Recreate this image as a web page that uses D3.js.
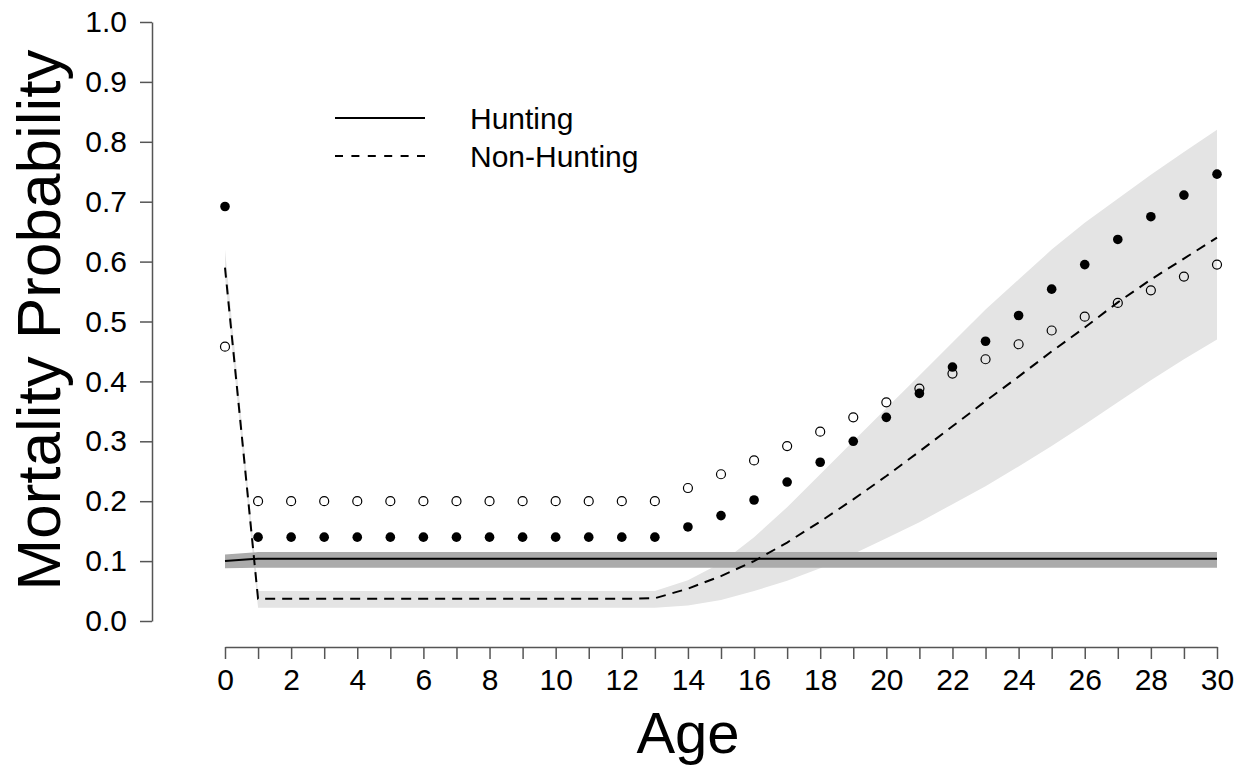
<!DOCTYPE html>
<html lang="en">
<head>
    <meta charset="UTF-8">
    <title>Mortality Probability by Age</title>
    <script src="https://cdn.jsdelivr.net/npm/d3@7"></script>
    <style>
        body { margin: 0; background: #fff; }
        text { font-family: "Liberation Sans", Arial, sans-serif; fill: #000; }
    </style>
</head>
<body>
    <svg width="1240" height="768"></svg>
    <script>
        const width = 1240;
        const height = 768;

        const ages = [0, 1, 2, 3, 4, 5, 6, 7, 8, 9, 10, 11, 12, 13, 14, 15,
            16, 17, 18, 19, 20, 21, 22, 23, 24, 25, 26, 27, 28, 29, 30];
        const xTickLabels = [0, 2, 4, 6, 8, 10, 12, 14, 16, 18, 20, 22, 24, 26, 28, 30];
        const yTicks = [0, 0.1, 0.2, 0.3, 0.4, 0.5, 0.6, 0.7, 0.8, 0.9, 1.0];

        // hunting: fitted line and its interval
        const huntFit = [0.100, 0.104, 0.104, 0.104, 0.104, 0.104, 0.104, 0.104, 0.104, 0.104, 0.104,
            0.104, 0.104, 0.104, 0.104, 0.104, 0.104, 0.104, 0.104, 0.104, 0.104,
            0.104, 0.104, 0.104, 0.104, 0.104, 0.104, 0.104, 0.104, 0.104, 0.104];
        const huntLow = [0.088, 0.089, 0.089, 0.089, 0.089, 0.089, 0.089, 0.089, 0.089, 0.089, 0.089,
            0.089, 0.089, 0.089, 0.089, 0.089, 0.089, 0.089, 0.089, 0.089, 0.089,
            0.089, 0.089, 0.089, 0.089, 0.089, 0.089, 0.089, 0.089, 0.089, 0.089];
        const huntHigh = [0.111, 0.115, 0.115, 0.115, 0.115, 0.115, 0.115, 0.115, 0.115, 0.115, 0.115,
            0.115, 0.115, 0.115, 0.115, 0.115, 0.115, 0.115, 0.115, 0.115, 0.115,
            0.115, 0.115, 0.115, 0.115, 0.115, 0.115, 0.115, 0.115, 0.115, 0.115];

        // non-hunting: fitted line and its interval
        const nonHuntFit = [0.59, 0.037, 0.037, 0.037, 0.037, 0.037, 0.037, 0.037, 0.037, 0.037, 0.037,
            0.037, 0.037, 0.038, 0.054, 0.075, 0.100, 0.131, 0.166, 0.203, 0.242,
            0.283, 0.325, 0.367, 0.408, 0.450, 0.490, 0.532, 0.570, 0.605, 0.640];
        const nonHuntLow = [0.575, 0.022, 0.022, 0.022, 0.022, 0.022, 0.022, 0.022, 0.022, 0.022, 0.022,
            0.022, 0.022, 0.022, 0.026, 0.035, 0.050, 0.067, 0.088, 0.112, 0.138,
            0.165, 0.195, 0.225, 0.258, 0.292, 0.328, 0.365, 0.402, 0.437, 0.470];
        const nonHuntHigh = [0.62, 0.050, 0.050, 0.050, 0.050, 0.050, 0.050, 0.050, 0.050, 0.050, 0.050,
            0.050, 0.050, 0.050, 0.068, 0.097, 0.140, 0.190, 0.245, 0.300, 0.355,
            0.410, 0.465, 0.520, 0.570, 0.620, 0.665, 0.705, 0.745, 0.783, 0.820];

        // observed points
        const filledPts = [0.692, 0.14, 0.14, 0.14, 0.14, 0.14, 0.14, 0.14, 0.14, 0.14, 0.14,
            0.14, 0.14, 0.14, 0.157, 0.176, 0.202, 0.232, 0.265, 0.300, 0.340,
            0.380, 0.424, 0.467, 0.510, 0.554, 0.595, 0.637, 0.675, 0.711, 0.746];
        const openPts = [0.458, 0.20, 0.20, 0.20, 0.20, 0.20, 0.20, 0.20, 0.20, 0.20, 0.20,
            0.20, 0.20, 0.20, 0.222, 0.245, 0.268, 0.292, 0.316, 0.340, 0.365,
            0.388, 0.413, 0.437, 0.462, 0.485, 0.508, 0.531, 0.552, 0.575, 0.595];

        const legendItems = [
            {name: 'Hunting', dash: null},
            {name: 'Non-Hunting', dash: '8,8.4'}
        ];

        const x = d3.scaleLinear().domain([0, 30]).range([225, 1217]);
        const y = d3.scaleLinear().domain([0, 1]).range([621, 22]);

        const svg = d3.select('svg');

        const band = (lo, hi) => d3.area()
            .x((d, i) => x(ages[i]))
            .y0((d, i) => y(lo[i]))
            .y1((d, i) => y(hi[i]));
        const line = vals => d3.line()
            .x((d, i) => x(ages[i]))
            .y((d, i) => y(vals[i]));

        svg.append('path').datum(ages)
            .attr('fill', '#e4e4e4')
            .attr('d', band(nonHuntLow, nonHuntHigh));
        svg.append('path').datum(ages)
            .attr('fill', '#ababab')
            .attr('d', band(huntLow, huntHigh));

        svg.append('path').datum(ages)
            .attr('fill', 'none').attr('stroke', '#000').attr('stroke-width', 2)
            .attr('d', line(huntFit));
        svg.append('path').datum(ages)
            .attr('fill', 'none').attr('stroke', '#000').attr('stroke-width', 2)
            .attr('stroke-dasharray', '10,7')
            .attr('d', line(nonHuntFit));

        svg.append('g')
            .selectAll('circle').data(ages).enter().append('circle')
            .attr('cx', d => x(d))
            .attr('cy', (d, i) => y(openPts[i]))
            .attr('r', 4.5)
            .attr('fill', 'none')
            .attr('stroke', '#000')
            .attr('stroke-width', 1.2);
        svg.append('g')
            .selectAll('circle').data(ages).enter().append('circle')
            .attr('cx', d => x(d))
            .attr('cy', (d, i) => y(filledPts[i]))
            .attr('r', 4.8)
            .attr('fill', '#000');

        // axes
        const yAxis = g => g
            .attr('transform', 'translate(152, 0)')
            .call(d3.axisLeft(y).tickValues(yTicks).tickSize(12).tickSizeOuter(0)
                .tickPadding(13).tickFormat(d3.format('.1f')))
            .call(g => g.selectAll('path, line').attr('stroke', '#555').attr('stroke-width', 1.5))
            .call(g => g.selectAll('text').attr('font-size', 30)
                .attr('font-family', '"Liberation Sans", Arial, sans-serif'));

        const xAxis = g => g
            .attr('transform', 'translate(0, 647)')
            .call(d3.axisBottom(x).tickValues(ages).tickSize(12).tickSizeOuter(0)
                .tickPadding(10).tickFormat(d => xTickLabels.includes(d) ? d : ''))
            .call(g => g.selectAll('path, line').attr('stroke', '#555').attr('stroke-width', 1.5))
            .call(g => g.selectAll('text').attr('font-size', 30)
                .attr('font-family', '"Liberation Sans", Arial, sans-serif'));

        svg.append('g').call(yAxis);
        svg.append('g').call(xAxis);

        // axis titles
        svg.append('text')
            .attr('transform', 'translate(60, 320) rotate(-90)')
            .attr('text-anchor', 'middle')
            .attr('font-size', 62)
            .text('Mortality Probability');
        svg.append('text')
            .attr('x', 688).attr('y', 753)
            .attr('text-anchor', 'middle')
            .attr('font-size', 58)
            .text('Age');

        // legend
        const legend = svg.append('g')
            .selectAll('g').data(legendItems).enter().append('g')
            .attr('transform', (d, i) => `translate(335, ${118 + i * 38})`);
        legend.append('line')
            .attr('x1', 0).attr('x2', 90)
            .attr('stroke', '#000').attr('stroke-width', 2)
            .attr('stroke-dasharray', d => d.dash);
        legend.append('text')
            .attr('x', 135).attr('dy', '0.36em')
            .attr('font-size', 30)
            .text(d => d.name);
    </script>
</body>
</html>
